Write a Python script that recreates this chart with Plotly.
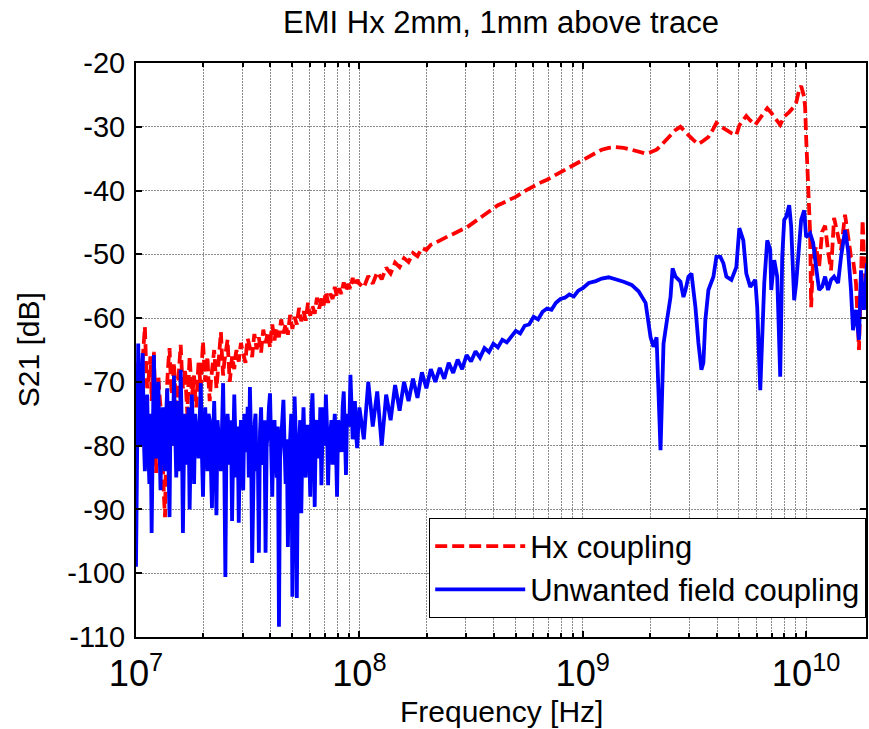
import plotly.graph_objects as go

# ---------------- data ----------------
# sweep points 10 MHz .. 100 MHz (MHz), two interleaved sets
freq_low_mhz = [10.00, 10.23, 10.47, 10.72, 10.96, 11.22, 11.48, 11.75, 12.02, 12.30,
                12.59, 12.88, 13.18, 13.49, 13.80, 14.13, 14.45, 14.79, 15.14, 15.49,
                15.85, 16.22, 16.60, 16.98, 17.38, 17.78, 18.20, 18.62, 19.05, 19.50,
                19.95, 20.42, 20.89, 21.38, 21.88, 22.39, 22.91, 23.44, 23.99, 24.55,
                25.12, 25.70, 26.30, 26.92, 27.54, 28.18, 28.84, 29.51, 30.20, 30.90,
                31.62, 32.36, 33.11, 33.88, 34.67, 35.48, 36.31, 37.15, 38.02, 38.90,
                39.81, 40.74, 41.69, 42.66, 43.65, 44.67, 45.71, 46.77, 47.86, 48.98,
                50.12, 51.29, 52.48, 53.70, 54.95, 56.23, 57.54, 58.88, 60.26, 61.66,
                63.10, 64.57, 66.07, 67.61, 69.18, 70.79, 72.44, 74.13, 75.86, 77.62,
                79.43, 81.28, 83.18, 85.11, 87.10, 89.13, 91.20, 93.33, 95.50, 97.72,
                100.0]
freq_low_b_mhz = [10.12, 10.35, 10.59, 10.84, 11.09, 11.35, 11.61, 11.89, 12.16, 12.45,
                  12.74, 13.03, 13.34, 13.65, 13.96, 14.29, 14.62, 14.96, 15.31, 15.67,
                  16.03, 16.41, 16.79, 17.18, 17.58, 17.99, 18.41, 18.84, 19.28, 19.72,
                  20.18, 20.65, 21.13, 21.63, 22.13, 22.65, 23.17, 23.71, 24.27, 24.83,
                  25.41, 26.00, 26.61, 27.23, 27.86, 28.51, 29.17, 29.85, 30.55, 31.26,
                  31.99, 32.73, 33.50, 34.28, 35.08, 35.89, 36.73, 37.58, 38.46, 39.36,
                  40.27, 41.21, 42.17, 43.15, 44.16, 45.19, 46.24, 47.32, 48.42, 49.55,
                  50.70, 51.88, 53.09, 54.33, 55.59, 56.89, 58.21, 59.57, 60.95, 62.37,
                  63.83, 65.31, 66.83, 68.39, 69.98, 71.61, 73.28, 74.99, 76.74, 78.52,
                  80.35, 82.22, 84.14, 86.10, 88.10, 90.16, 92.26, 94.41, 96.60, 98.86]
freq_mid_mhz = [104.7, 109.6, 114.8, 120.2, 125.9, 131.8, 138.0, 144.5, 151.4, 158.5,
                166.0, 173.8, 182.0, 190.5, 199.5, 208.9, 218.8, 229.1, 239.9, 251.2,
                263.0, 275.4, 288.4, 302.0, 316.2, 331.1, 346.7, 363.1, 380.2, 398.1,
                416.9, 436.5, 457.1, 478.6, 501.2, 524.8, 549.5, 575.4, 602.6, 631.0,
                660.7, 691.8, 724.4, 758.6, 794.3, 831.8, 871.0, 912.0, 955.0, 1000.0]

# Hx coupling (dB)
hx_low_db = [-70, -67, -72, -66, -61.4, -71, -68, -73, -65.3, -84.3,
             -69, -74, -85.4, -91.2, -70, -64.7, -72, -67, -74, -69,
             -64.2, -71, -68, -75, -66, -72, -69, -74, -67, -71,
             -63.7, -70, -66, -73, -68, -65, -71, -67, -62.2, -69,
             -66, -63.4, -70, -66, -68, -65, -66.8, -63.9, -65.5, -67.0,
             -63.2, -64.6, -66.1, -62.5, -64.9, -63.0, -65.4, -61.8, -63.9, -62.2,
             -64.6, -61.0, -63.5, -61.6, -63.0, -60.2, -62.4, -60.9, -62.6, -59.5,
             -61.7, -59.8, -61.0, -58.4, -60.5, -58.9, -60.4, -57.6, -59.6, -58.1,
             -59.3, -56.8, -58.5, -56.9, -58.0, -55.9, -57.6, -56.2, -57.0, -55.1,
             -56.7, -55.3, -56.2, -54.4, -55.8, -54.6, -55.4, -53.7, -55.0, -54.0,
             -54.6]
hx_low_b_db = [-68, -70, -69, -64, -67, -70, -66, -70, -72, -74,
               -72, -78, -88, -73, -67, -69, -70, -71, -72, -66,
               -68, -70, -72, -70, -69, -71, -72, -70, -69, -67,
               -67, -68, -70, -70, -67, -68, -69, -65, -66, -67,
               -65, -67, -68, -67, -66, -66, -65.2, -64.8, -66.0, -64.6,
               -63.9, -65.3, -64.0, -63.6, -64.1, -64.2, -63.4, -62.9, -63.1, -63.4,
               -62.5, -62.3, -62.4, -62.3, -61.6, -61.3, -61.7, -61.8, -60.9, -60.6,
               -60.8, -60.4, -59.6, -59.5, -59.7, -59.6, -58.9, -58.7, -58.8, -58.7,
               -58.0, -57.7, -57.8, -57.5, -56.9, -56.7, -56.8, -56.6, -56.1, -55.9,
               -56.0, -55.8, -55.2, -55.1, -55.2, -55.0, -54.5, -54.6, -54.5, -54.3]
hx_mid_db = [-55.2, -53.4, -54.6, -52.8, -53.9, -52.1, -53.0, -51.3, -52.0, -50.6,
             -51.2, -49.8, -50.3, -49.0, -49.3, -48.5, -48.2, -47.8, -47.4, -47.1,
             -46.8, -46.4, -46.1, -45.8, -45.3, -44.8, -44.3, -43.8, -43.3, -42.8,
             -42.3, -42.0, -41.6, -41.3, -41.0, -40.5, -40.1, -39.7, -39.3, -38.9,
             -38.6, -38.3, -37.9, -37.5, -37.1, -36.8, -36.3, -35.9, -35.5, -35.2]
hx_high_ghz = [1.064, 1.143, 1.216, 1.306, 1.404, 1.524, 1.655, 1.778, 1.911, 2.012,
               2.140, 2.229, 2.371, 2.471, 2.602, 2.738, 2.883, 2.973, 3.131, 3.295,
               3.468, 3.652, 3.845, 3.965, 4.131, 4.395, 4.627, 4.870, 5.022, 5.234,
               5.397, 5.623, 5.920, 6.232, 6.494, 6.697, 6.978, 7.197, 7.422, 7.655,
               7.977, 8.398, 8.841, 9.025, 9.307, 9.500, 9.797, 9.900, 10.00, 10.21,
               10.42, 10.53, 10.75, 11.08, 11.43, 11.79, 12.16, 12.54, 12.93, 13.34,
               13.90, 14.33, 14.93, 15.40, 15.88, 16.21, 16.72, 17.24, 17.60, 17.90,
               18.15, 18.72]
hx_high_db = [-34.6, -34.1, -33.6, -33.3, -33.2, -33.3, -33.6, -33.9, -34.2, -34.0,
              -33.6, -33.0, -32.0, -31.3, -30.5, -30.0, -30.7, -31.3, -32.1, -32.7,
              -32.2, -31.6, -30.3, -29.4, -29.9, -30.5, -31.0, -31.3, -29.8, -28.9,
              -28.3, -29.0, -29.7, -28.6, -27.6, -27.1, -27.8, -28.4, -29.0, -29.7,
              -28.4, -27.7, -26.8, -26.2, -24.2, -23.6, -25.3, -27.0, -31.6, -40.0,
              -46.7, -58.3, -50.5, -48.8, -52.0, -46.5, -45.5, -49.5, -52.5, -44.3,
              -47.5, -49.3, -43.8, -47.5, -50.4, -50.8, -54.5, -65.0, -51.5, -44.6,
              -50.5, -58.0]

# Unwanted field coupling (dB)
unw_low_db = [-99, -64, -80, -65.5, -84, -72, -86, -93.7, -65.8, -82,
              -70, -87, -74, -84, -71, -91.2, -76, -69, -85, -73,
              -68.1, -93.7, -75, -83, -90, -72, -86, -77, -82, -70.2,
              -88, -74, -84, -76, -89.8, -73, -90.9, -78, -84, -70.2,
              -100.6, -75, -83, -91.8, -72, -85, -92.1, -76, -87, -79,
              -73.9, -70.8, -98.4, -77, -84, -96.8, -74, -82, -96.8, -78,
              -71.8, -88, -76, -85, -108.4, -79, -72.8, -86, -95.9, -77,
              -103.7, -72.3, -103.9, -80, -90.6, -74, -85, -77, -88, -71.8,
              -89.6, -76, -82, -86.2, -74, -72, -86.2, -78, -83, -75,
              -88, -77, -81, -71.5, -84.6, -76, -68.9, -79, -73, -80.4,
              -74]
unw_low_b_db = [-78, -76, -70, -79, -77, -81, -75, -79, -74, -78,
                -80, -76, -79, -75, -82, -73, -80, -77, -79, -84,
                -77, -80, -78, -74, -80, -78, -75, -80, -76, -81,
                -78, -80, -75, -83, -79, -80, -76, -81, -77, -82,
                -79, -78, -76, -81, -79, -77, -80, -82, -75, -81,
                -85, -79, -80, -75, -80, -78, -83, -76, -80, -74,
                -80, -78, -81, -77, -82, -76, -80, -79, -83, -75,
                -80, -78, -82, -76, -79, -81, -77, -80, -75, -79,
                -77, -80, -74, -78, -80, -77, -79, -76, -78, -80,
                -76, -79, -74, -78, -75, -77, -74, -76, -78, -77]
unw_mid_db = [-79, -70, -77, -71.5, -80, -72, -76, -70.5, -74.5, -70,
              -73, -69.5, -72.5, -68.5, -71, -68, -70, -67.8, -69.5, -67,
              -68.6, -66.5, -68, -65.8, -66.8, -65.2, -66.2, -64.7, -65.3, -64,
              -64.6, -63.4, -63.8, -62.8, -62, -62.4, -61.2, -61, -59.8, -60.2,
              -59, -58.5, -58.7, -57.6, -57, -56.8, -56.3, -56.6, -55.7, -55.3]
unw_high_ghz = [1.064, 1.143, 1.216, 1.306, 1.404, 1.524, 1.655, 1.778, 1.911, 2.012,
                2.073, 2.140, 2.229, 2.299, 2.371, 2.471, 2.524, 2.602, 2.738, 2.824,
                2.883, 2.973, 3.066, 3.131, 3.195, 3.295, 3.398, 3.468, 3.539, 3.652,
                3.845, 3.965, 4.131, 4.262, 4.395, 4.627, 4.870, 5.022, 5.234, 5.397,
                5.623, 5.920, 6.040, 6.232, 6.362, 6.494, 6.697, 6.907, 6.978, 7.197,
                7.422, 7.655, 7.815, 7.977, 8.143, 8.398, 8.572, 8.841, 9.025, 9.307,
                9.500, 9.797, 10.00, 10.42, 10.75, 11.08, 11.43, 11.79, 12.16, 12.54,
                12.93, 13.34, 13.90, 14.33, 14.93, 15.40, 15.88, 16.21, 16.72, 17.24,
                17.60, 18.15, 18.72]
unw_high_db = [-54.5, -54.2, -53.8, -53.6, -53.9, -54.3, -54.8, -55.8, -57.6, -63.0,
               -64.5, -63.0, -80.7, -64.0, -60.8, -56.7, -52.2, -53.5, -54.3, -56.7,
               -55.6, -53.5, -53.0, -55.6, -58.3, -63.9, -68.1, -67.0, -60.3, -55.6,
               -53.5, -50.4, -50.4, -51.4, -53.5, -54.0, -52.0, -45.9, -47.8, -53.0,
               -55.1, -54.0, -58.3, -71.3, -63.0, -54.5, -47.8, -49.3, -55.6, -50.9,
               -53.5, -69.2, -50.4, -44.6, -44.1, -42.3, -45.7, -57.2, -54.5, -47.3,
               -44.6, -43.1, -47.3, -46.7, -48.2, -52.0, -55.6, -55.1, -53.5, -55.6,
               -54.0, -53.5, -54.5, -50.4, -46.2, -49.3, -55.6, -61.9, -58.7, -63.4,
               -52.5, -58.7, -51.4]

title_text = "EMI Hx 2mm, 1mm above trace"
x_title = "Frequency [Hz]"
y_title = "S21 [dB]"
y_ticks = [-110, -100, -90, -80, -70, -60, -50, -40, -30, -20]
y_tick_text = ["-110", "-100", "-90", "-80", "-70", "-60", "-50", "-40", "-30", "-20"]


# ---------------- assemble ----------------
def merge_low(fa, va, fb, vb):
    pairs = sorted(list(zip(fa, va)) + list(zip(fb, vb)))
    return [p[0] * 1e6 for p in pairs], [p[1] for p in pairs]


fl_hx, vl_hx = merge_low(freq_low_mhz, hx_low_db, freq_low_b_mhz, hx_low_b_db)
fl_unw, vl_unw = merge_low(freq_low_mhz, unw_low_db, freq_low_b_mhz, unw_low_b_db)
f_mid = [v * 1e6 for v in freq_mid_mhz]

f_hx = fl_hx + f_mid + [v * 1e9 for v in hx_high_ghz]
v_hx = vl_hx + hx_mid_db + hx_high_db
f_unw = fl_unw + f_mid + [v * 1e9 for v in unw_high_ghz]
v_unw = vl_unw + unw_mid_db + unw_high_db

FONT = "Liberation Sans, Arial, Helvetica, sans-serif"

fig = go.Figure()
fig.add_trace(go.Scatter(x=f_hx, y=v_hx, mode="lines", name="Hx coupling",
                         line=dict(color="#ff0000", width=3.8, dash="12px,5px")))
fig.add_trace(go.Scatter(x=f_unw, y=v_unw, mode="lines", name="Unwanted field coupling",
                         line=dict(color="#0000ff", width=3.8)))

grid = dict(gridcolor="#8c8c8c", gridwidth=1, griddash="2px,1px")

fig.update_layout(
    width=869, height=729, autosize=False,
    margin=dict(l=136, r=1, t=63, b=92),
    paper_bgcolor="white", plot_bgcolor="white",
    font=dict(family=FONT, size=29, color="black"),
    title=dict(text=title_text, x=0.5, xref="paper", y=1 - 22 / 729,
               yref="container", yanchor="middle", xanchor="center",
               font=dict(size=31)),
    showlegend=True,
    legend=dict(x=1, xanchor="right", y=0.207, yanchor="top",
                bgcolor="white", bordercolor="black", borderwidth=1.2,
                font=dict(size=31), itemwidth=90, tracegroupgap=0),
    annotations=[
        dict(text=x_title, xref="paper", yref="paper", x=0.5, y=(637 - 711) / 574,
             xanchor="center", yanchor="middle", showarrow=False,
             font=dict(size=30)),
        dict(text=y_title, xref="paper", yref="paper", x=(28 - 136) / 732, y=0.5,
             xanchor="center", yanchor="middle", textangle=-90, showarrow=False,
             font=dict(size=30)),
    ],
)

fig.update_xaxes(
    type="log", range=[7, 10.268], dtick=1, exponentformat="power",
    showline=True, linecolor="black", linewidth=2, mirror="ticks",
    ticks="inside", ticklen=6, tickwidth=1.5, tickcolor="black",
    showgrid=True, zeroline=False, ticklabelstandoff=5,
    minor=dict(ticks="inside", ticklen=4, tickwidth=1.5, tickcolor="black",
               showgrid=True, dtick="D1", **grid),
    **grid,
)
fig.update_yaxes(
    range=[-110, -20], tickvals=y_ticks, ticktext=y_tick_text,
    showline=True, linecolor="black", linewidth=2, mirror="ticks",
    ticks="inside", ticklen=6, tickwidth=1.5, tickcolor="black",
    showgrid=True, zeroline=False, ticklabelstandoff=3,
    **grid,
)

fig.write_html("out.html")
